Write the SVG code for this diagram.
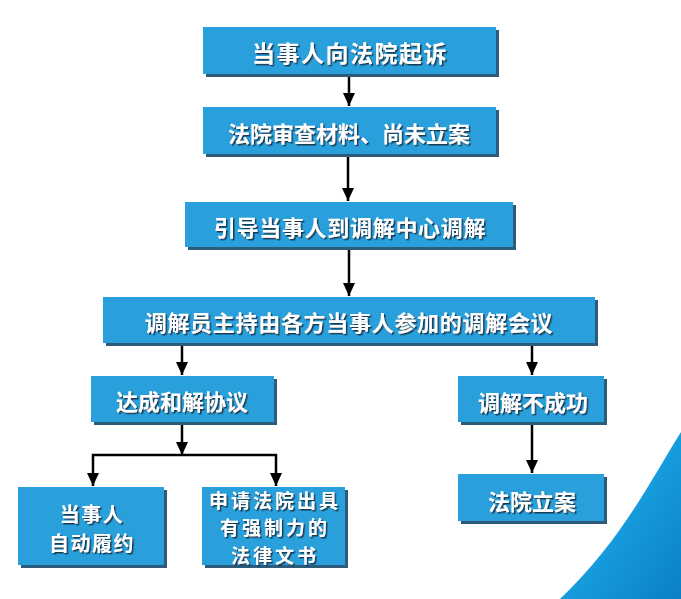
<svg xmlns="http://www.w3.org/2000/svg" width="681" height="599" viewBox="0 0 681 599">
<defs>
<style>
.box{fill:#29a0dc;}
.sh{fill:#2c5b7b;}
.t{font-family:"Noto Sans CJK SC","Noto Sans",sans-serif;font-weight:bold;font-size:22px;fill:#ffffff;text-anchor:middle;dominant-baseline:central;filter:url(#ts);}
.c{stroke:#000;stroke-width:2.5;fill:none;}
</style>
<filter id="ts" x="-10%" y="-30%" width="120%" height="160%">
<feDropShadow dx="1.5" dy="1.5" stdDeviation="0.6" flood-color="#123046" flood-opacity="0.9"/>
</filter>
<marker id="ah" markerUnits="userSpaceOnUse" markerWidth="14" markerHeight="14" viewBox="0 0 14 14" refX="13" refY="7" orient="auto-start-reverse">
<path d="M0,1 L13,7 L0,13 Z" fill="#000"/>
</marker>
<linearGradient id="sw" x1="0" y1="0" x2="1" y2="1">
<stop offset="0" stop-color="#5cc6ef"/>
<stop offset="0.35" stop-color="#1aa6e4"/>
<stop offset="1" stop-color="#0b7fc6"/>
</linearGradient>
</defs>
<rect width="681" height="599" fill="#ffffff"/>
<path d="M681,432 C652,478 622,540 560,599 L681,599 Z" fill="url(#sw)"/>
<g id="connectors">
<line class="c" x1="349" y1="77" x2="349" y2="106" marker-end="url(#ah)"/>
<line class="c" x1="348" y1="157" x2="348" y2="201" marker-end="url(#ah)"/>
<line class="c" x1="349" y1="250" x2="349" y2="296" marker-end="url(#ah)"/>
<line class="c" x1="182" y1="346" x2="182" y2="375" marker-end="url(#ah)"/>
<line class="c" x1="532" y1="346" x2="532" y2="375" marker-end="url(#ah)"/>
<line class="c" x1="182" y1="425" x2="182" y2="455" marker-end="url(#ah)"/>
<polyline class="c" points="93,486 93,455 276,455 276,486" marker-start="url(#ah)" marker-end="url(#ah)"/>
<line class="c" x1="532" y1="425" x2="532" y2="473" marker-end="url(#ah)"/>
</g>
<g id="n1">
<rect class="sh" x="206" y="30" width="293" height="47"/>
<rect class="box" x="203" y="27" width="293" height="47"/>
<text class="t" x="350" y="52" style="font-size:23px;letter-spacing:1.5px">当事人向法院起诉</text>
</g>
<g id="n2">
<rect class="sh" x="206" y="110" width="293" height="47"/>
<rect class="box" x="203" y="107" width="293" height="47"/>
<text class="t" x="349" y="132">法院审查材料、尚未立案</text>
</g>
<g id="n3">
<rect class="sh" x="188" y="205" width="328" height="45"/>
<rect class="box" x="185" y="202" width="328" height="45"/>
<text class="t" x="350" y="226" style="letter-spacing:0.7px">引导当事人到调解中心调解</text>
</g>
<g id="n4">
<rect class="sh" x="106" y="300" width="492" height="46"/>
<rect class="box" x="103" y="297" width="492" height="46"/>
<text class="t" x="349" y="321" style="letter-spacing:0.7px">调解员主持由各方当事人参加的调解会议</text>
</g>
<g id="n5">
<rect class="sh" x="94" y="379" width="183" height="46"/>
<rect class="box" x="91" y="376" width="183" height="46"/>
<text class="t" x="182" y="400">达成和解协议</text>
</g>
<g id="n6">
<rect class="sh" x="461" y="379" width="146" height="46"/>
<rect class="box" x="458" y="376" width="146" height="46"/>
<text class="t" x="533" y="401">调解不成功</text>
</g>
<g id="n7">
<rect class="sh" x="461" y="477" width="146" height="47"/>
<rect class="box" x="458" y="474" width="146" height="47"/>
<text class="t" x="532" y="500">法院立案</text>
</g>
<g id="n8">
<rect class="sh" x="21" y="490" width="146" height="78"/>
<rect class="box" x="18" y="487" width="146" height="78"/>
<text class="t" x="92" y="513" style="font-size:20px;letter-spacing:1.5px">当事人</text>
<text class="t" x="92" y="542" style="font-size:20px;letter-spacing:1.5px">自动履约</text>
</g>
<g id="n9">
<rect class="sh" x="205" y="490" width="143" height="78"/>
<rect class="box" x="202" y="487" width="143" height="78"/>
<text class="t" x="275" y="499" style="font-size:19px;letter-spacing:3px">申请法院出具</text>
<text class="t" x="275" y="526.5" style="font-size:19px;letter-spacing:3px">有强制力的</text>
<text class="t" x="275" y="554" style="font-size:19px;letter-spacing:3px">法律文书</text>
</g>
</svg>
